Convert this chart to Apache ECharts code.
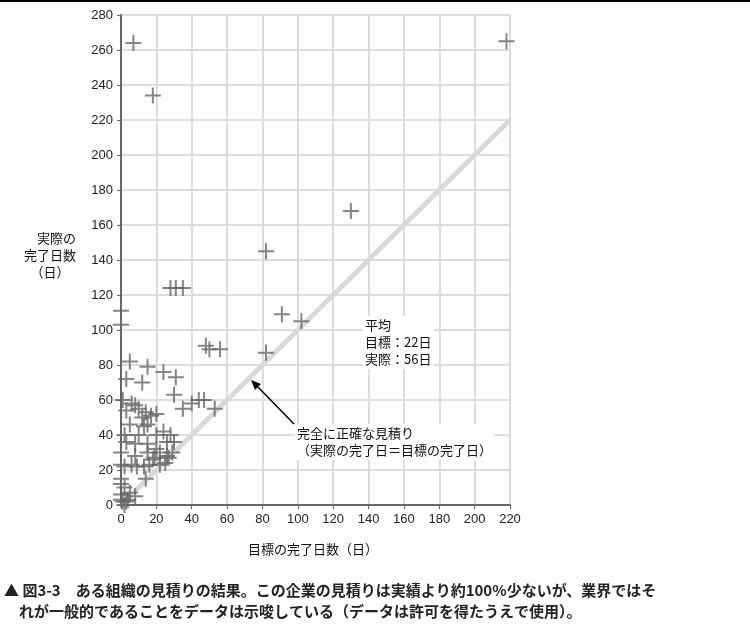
<!DOCTYPE html>
<html><head><meta charset="utf-8">
<script src="https://cdn.jsdelivr.net/npm/echarts@6/dist/echarts.min.js"></script>
<style>
body{margin:0;background:#fff;font-family:"Noto Sans CJK JP",sans-serif}
#c{width:750px;height:626px}
</style></head>
<body><div id="c"></div>
<script>
// estimated target vs actual days
const targetDays = [7,18,218,130,82,91,102,82,48,50,56,28,31,35,53,44,47,40,35,0,0,5,3,12,15,24,31,30,8,10,14,17,20,3,5,13,3,8,15,20,26,30,0,2,6,9,13,16,18,22,26,27,29,8,25,22,14,2,5,8,0,1,3,0,0,2,10,15,24,1,6,12,15,19,0,0,2,4,28,20];
const actualDays = [264,234,265,168,145,109,105,87,91,89,89,124,124,124,55,60,60,58,55,111,103,82,72,70,79,76,73,63,57,55,53,51,52,54,46,45,36,35,35,32,36,36,23,22,23,22,22,23,26,30,28,27,30,28,24,23,15,10,7,5,3,2,2,15,30,40,40,46,42,60,58,50,30,27,12,6,0,3,40,40];
const perfectLine = [[0,0],[220,220]];

const chart = echarts.init(document.getElementById('c'));
const txt = {fill:'#111',fontSize:13,fontFamily:'"Noto Sans CJK JP",sans-serif',lineHeight:17};
const boxed = Object.assign({},txt,{backgroundColor:'#fff',padding:[1,2]});
chart.setOption({
  animation:false,
  grid:{left:121,right:240,top:15,bottom:121},
  xAxis:{type:'value',min:0,max:220,interval:20,
    axisLine:{lineStyle:{color:'#666',width:2}},axisTick:{show:true,length:4,lineStyle:{color:'#666'}},
    axisLabel:{color:'#222',fontSize:13,fontFamily:'Liberation Sans'},
    splitLine:{lineStyle:{color:'#ddd',width:2}}},
  yAxis:{type:'value',min:0,max:280,interval:20,
    axisLine:{show:true,lineStyle:{color:'#666',width:2}},axisTick:{show:true,length:4,lineStyle:{color:'#666'}},
    axisLabel:{color:'#222',fontSize:13,fontFamily:'Liberation Sans'},
    splitLine:{lineStyle:{color:'#ddd',width:2}}},
  series:[
    {type:'line',data:perfectLine,symbol:'none',silent:true,lineStyle:{color:'#d9d9d9',width:5},z:1},
    {type:'scatter',data:targetDays.map((x,i)=>[x,actualDays[i]]),
     symbol:'path://M0,8L16,8M8,0L8,16',symbolSize:16,
     itemStyle:{color:'none',borderColor:'#666',borderWidth:2},z:3}
  ],
  graphic:[
    {type:'rect',z:100,shape:{x:0,y:0,width:750,height:2},style:{fill:'#000'}},
    {type:'text',z:100,left:24,top:230,style:Object.assign({},txt,{text:'　実際の\n完了日数\n　（日）'})},
    {type:'text',z:100,left:248,top:541,style:Object.assign({},txt,{text:'目標の完了日数（日）'})},
    {type:'text',z:100,left:363,top:316,style:Object.assign({},boxed,{text:'平均\n目標：22日\n実際：56日'})},
    {type:'text',z:100,left:295,top:424,style:Object.assign({},boxed,{text:'完全に正確な見積り\n（実際の完了日＝目標の完了日）'})},
    {type:'line',z:100,shape:{x1:294,y1:424,x2:256,y2:385},style:{stroke:'#000',lineWidth:1.5}},
    {type:'polygon',z:100,shape:{points:[[251,380],[261,384],[255,390]]},style:{fill:'#000'}},
    {type:'text',z:100,left:4,top:580,style:Object.assign({},txt,{fontSize:15,lineHeight:21,fontWeight:'bold',fill:'#222',
      text:'▲ 図3-3　ある組織の見積りの結果。この企業の見積りは実績より約100%少ないが、業界ではそ\n　れが一般的であることをデータは示唆している（データは許可を得たうえで使用）。'})}
  ]
});
</script></body></html>
